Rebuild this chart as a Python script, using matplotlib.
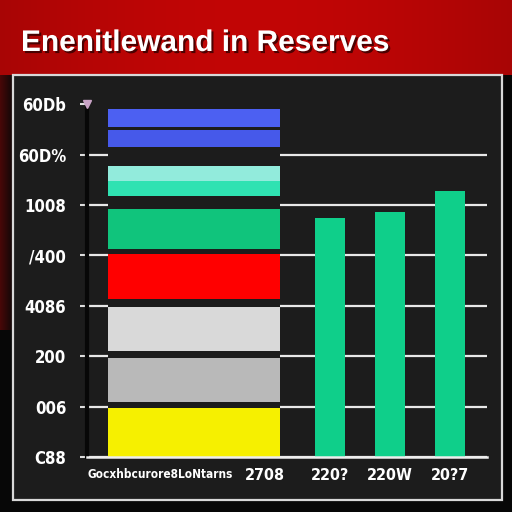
import matplotlib
matplotlib.use('Agg')
import matplotlib.pyplot as plt
import matplotlib.patheffects as pe
from matplotlib.patches import Rectangle
import numpy as np

# ---- data ----
title = "Enenitlewand in Reserves"
segment_bottoms = [0.00, 1.09, 2.10, 3.13, 4.13, 5.18, 5.48, 6.15, 6.55]
segment_values = [0.97, 0.87, 0.88, 0.90, 0.79, 0.30, 0.29, 0.34, 0.35]
segment_colors = ['#f6f000', '#b9b9b9', '#d9d9d9', '#ff0000', '#10c47c',
                  '#2fe2b2', '#92ebdc', '#4659ea', '#4c60f2']
bar_values = [4.74, 4.86, 5.28]
x_labels = ["Gocxhbcurore8LoNtarns", "2708", "220?", "220W", "20?7"]
y_labels = ["C88", "006", "200", "4086", "/400", "1008", "60D%", "60Db"]
y_ticks = [0, 1, 2, 3, 4, 5, 6, 7]

W = H = 512
fig = plt.figure(figsize=(5.12, 5.12), dpi=100)

# background image
img = np.zeros((H, W, 3))
img[:, :] = [0.03, 0.03, 0.03]
xs = np.linspace(0, 1, W)
hdr = 0.66 + 0.10 * np.sin(np.pi * xs)
img[:75, :, 0] = hdr
img[:75, :, 1] = 0.02
img[:75, :, 2] = 0.02
for c in range(14):
    f = 1 - c / 14
    img[75:330, c, 0] = 0.03 + 0.25 * f
bg = fig.add_axes([0, 0, 1, 1])
bg.imshow(img, extent=[0, 1, 0, 1], aspect='auto')
bg.axis('off')

# panel
fig.patches.append(Rectangle((13 / W, 12 / H), (502 - 13) / W, (500 - 75) / H,
                             transform=fig.transFigure, facecolor='#1c1c1c',
                             edgecolor='#d8d8d8', linewidth=1.6, zorder=1))

fig.text(21 / W, 1 - 43 / H, title, color='white', fontsize=21.5, fontweight='bold',
         family='Liberation Sans', va='center', ha='left',
         path_effects=[pe.withSimplePatchShadow(offset=(1.5, -1.5), shadow_rgbFace='#300000', alpha=0.8)])

ax = fig.add_axes([87 / W, (H - 457) / H, 400 / W, (457 - 95) / H])
ax.set_facecolor('none')
ax.set_zorder(2)
unit = 60.0
stack_x = 0.0
bar_x = [stack_x + (330 - 194) / unit, stack_x + (390 - 194) / unit, stack_x + (450 - 194) / unit]
ax.set_xlim((87 - 194) / unit, (487 - 194) / unit)
ax.set_ylim(0, 362 / 50.4)

ax.grid(axis='y', color='#e8e8e8', linewidth=1.6, zorder=0)
ax.set_axisbelow(True)
stack_w = 172 / unit
ax.bar(stack_x, 7.0, width=stack_w, color='#1c1c1c', zorder=1)
ax.bar([stack_x] * len(segment_values), segment_values, bottom=segment_bottoms,
       width=stack_w, color=segment_colors, zorder=2)
ax.bar(bar_x, bar_values, width=30 / unit, color='#0fcf8a', zorder=2)

ax.set_yticks(y_ticks)
ax.set_yticklabels(y_labels, color='white', fontsize=12, fontweight='bold',
                   family='DejaVu Sans', stretch='condensed')
ax.tick_params(axis='y', colors='#dddddd', length=5, width=1.5, pad=10, labelcolor='white')
ax.get_ygridlines()[-1].set_visible(False)
tick_pos = [stack_x + (160 - 194) / unit, stack_x + (265 - 194) / unit] + bar_x
ax.set_xticks(tick_pos)
ax.set_xticklabels(x_labels, color='white', fontweight='bold', family='DejaVu Sans',
                   stretch='condensed')
for i, t in enumerate(ax.get_xticklabels()):
    t.set_fontsize(8.5 if i == 0 else 11.5)
ax.tick_params(axis='x', length=0, pad=8)
for s in ['top', 'right']:
    ax.spines[s].set_visible(False)
ax.spines['left'].set_color('#070707')
ax.spines['left'].set_linewidth(3)
ax.spines['left'].set_bounds(0, 7)
ax.spines['bottom'].set_color('#eeeeee')
ax.spines['bottom'].set_linewidth(1.8)
ax.plot([(87 - 194) / unit], [7.0], marker='v', color='#c9a3c6', markersize=6, clip_on=False, zorder=5)

fig.savefig('out.png', dpi=100)
